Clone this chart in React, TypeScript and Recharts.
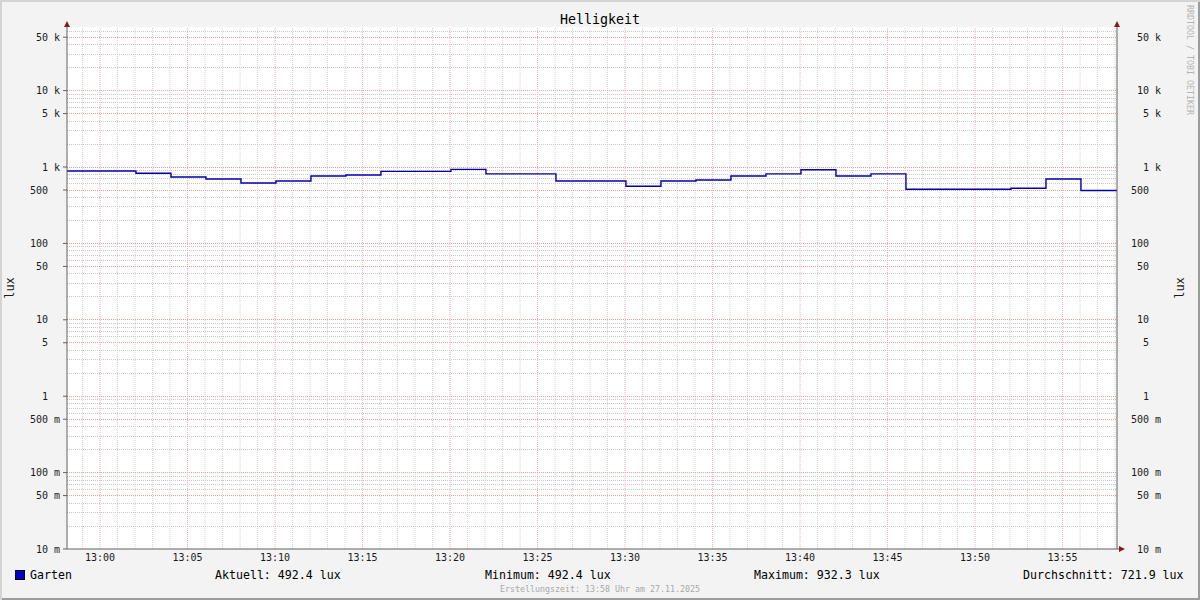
import { LineChart, Line, XAxis, YAxis, CartesianGrid, ReferenceLine, ReferenceDot } from 'recharts';

// minutes relative to 13:00, one entry per step of the lux reading
const minutes = [
  -1.89, 2.05, 4.05, 6.05, 8.05, 10.05, 12.05, 14.05, 16.05, 18.05,
  20.05, 22.05, 24.05, 26.05, 28.05, 30.05, 32.05, 34.05, 36.05, 38.05,
  40.05, 42.05, 44.05, 46.05, 48.05, 50.05, 52.05, 54.05, 56.05, 58.11,
];
const luxValues = [
  887, 830, 740, 697, 617, 655, 762, 786, 877, 877,
  932.3, 812, 812, 655, 655, 560, 655, 676, 763, 812,
  920, 763, 812, 512, 512, 512, 528, 697, 492.4, 492.4,
];

const xTicks = [0, 5, 10, 15, 20, 25, 30, 35, 40, 45, 50, 55];
const xTickLabels = ['13:00', '13:05', '13:10', '13:15', '13:20', '13:25', '13:30', '13:35', '13:40', '13:45', '13:50', '13:55'];
const yTicks = [0.01, 0.05, 0.1, 0.5, 1, 5, 10, 50, 100, 500, 1000, 5000, 10000, 50000];
const yTickLabels = ['10 m', '50 m', '100 m', '500 m', '1', '5', '10', '50', '100', '500', '1 k', '5 k', '10 k', '50 k'];
const decades = [0.01, 0.1, 1, 10, 100, 1000, 10000];
const minorMantissas = [2, 3, 4, 6, 7, 8, 9];
const minorMinutes = [-1, 1, 2, 3, 4, 6, 7, 8, 9, 11, 12, 13, 14, 16, 17, 18, 19, 21, 22, 23, 24, 26, 27, 28, 29,
  31, 32, 33, 34, 36, 37, 38, 39, 41, 42, 43, 44, 46, 47, 48, 49, 51, 52, 53, 54, 56, 57, 58];

const seriesName = 'Garten';
const statLabels = ['Aktuell', 'Minimum', 'Maximum', 'Durchschnitt'];
const statValues = ['492.4', '492.4', '932.3', '721.9'];
const statX = [215, 485, 754, 1023];

const X_MIN = -1.89;
const X_MAX = 58.11;
const Y_MIN = 0.01;
const Y_MAX = 68000;

const data = minutes.map((t, i) => ({ t, lux: luxValues[i] }));
const minorY = decades.flatMap((d) => minorMantissas.map((m) => d * m)).filter((v) => v < Y_MAX);
const majorY = decades.flatMap((d) => [d, d * 5]).filter((v) => v > Y_MIN && v < Y_MAX);

const mono = '"DejaVu Sans Mono", monospace';
const MINOR = '#c8c8c8';
const MAJOR = '#e6a0a0';

function yLabel(v: number) {
  const s = yTickLabels[yTicks.indexOf(v)] ?? '';
  return s.includes(' ') ? s : s + '\u00a0\u00a0';
}

function RightTick(props: any) {
  const { x, y, payload } = props;
  return (
    <text x={x + 44} y={y} dy={3.5} textAnchor="end" fontFamily={mono} fontSize={10} fill="#1a1a1a">
      {yLabel(payload.value)}
    </text>
  );
}

const upArrow = (p: any) => (
  <polygon points={`${p.cx - 3},${p.cy} ${p.cx + 3},${p.cy} ${p.cx},${p.cy - 6}`} fill="#8b1a1a" />
);
const rightArrow = (p: any) => (
  <g>
    <line x1={p.cx} y1={p.cy} x2={p.cx + 3} y2={p.cy} stroke="#606060" />
    <polygon points={`${p.cx + 2},${p.cy - 3} ${p.cx + 2},${p.cy + 3} ${p.cx + 8},${p.cy}`} fill="#8b1a1a" />
  </g>
);

export default function App() {
  return (
    <div
      style={{
        position: 'fixed', left: 0, top: 0, width: 1200, height: 600, background: '#f3f3f3',
        boxShadow: 'inset 2px 2px 0 #d4d4d4, inset -2px -2px 0 #9c9c9c',
      }}
    >
      <LineChart width={1200} height={600} data={data} margin={{ top: 27, right: 0, bottom: 0, left: 0 }}>
        <CartesianGrid fill="#ffffff" horizontal={false} vertical={false} yAxisId="left" />
        {minorMinutes.map((m) => (
          <ReferenceLine key={'vx' + m} x={m} yAxisId="left" stroke="#d2d2d2" strokeDasharray="1 1" />
        ))}
        {minorY.map((v) => (
          <ReferenceLine key={'hy' + v} y={v} yAxisId="left" stroke={MINOR} strokeDasharray="1 1" shapeRendering="crispEdges" />
        ))}
        {xTicks.map((m) => (
          <ReferenceLine key={'VX' + m} x={m} yAxisId="left" stroke="#eab0b0" strokeDasharray="1 1" />
        ))}
        {majorY.map((v) => (
          <ReferenceLine key={'HY' + v} y={v} yAxisId="left" stroke={MAJOR} strokeDasharray="1 1" shapeRendering="crispEdges" />
        ))}
        <XAxis
          dataKey="t" type="number" domain={[X_MIN, X_MAX]} allowDataOverflow ticks={xTicks} interval={0}
          tickFormatter={(v) => xTickLabels[xTicks.indexOf(v)] ?? ''}
          height={51} tickSize={0} tickMargin={5} tickLine={false}
          axisLine={{ stroke: '#606060' }}
          tick={{ fontFamily: mono, fontSize: 10, fill: '#1a1a1a' }}
        />
        <YAxis
          yAxisId="left" scale="log" domain={[Y_MIN, Y_MAX]} allowDataOverflow ticks={yTicks} interval={0}
          tickFormatter={yLabel} width={67} tickSize={4} tickMargin={3}
          tickLine={{ stroke: '#606060' }} axisLine={{ stroke: '#606060' }}
          tick={{ fontFamily: mono, fontSize: 10, fill: '#1a1a1a' }}
        />
        <YAxis
          yAxisId="right" orientation="right" scale="log" domain={[Y_MIN, Y_MAX]} allowDataOverflow
          ticks={yTicks} interval={0} width={83} tickSize={0} tickMargin={0} tickLine={false}
          axisLine={{ stroke: '#606060' }} tick={<RightTick />}
        />
        <Line
          yAxisId="left" type="stepAfter" dataKey="lux" name={seriesName} stroke="#0000aa"
          strokeWidth={1.4} dot={false} activeDot={false} isAnimationActive={false}
        />
        <ReferenceDot yAxisId="left" x={X_MIN} y={Y_MAX} ifOverflow="visible" shape={upArrow} />
        <ReferenceDot yAxisId="left" x={X_MAX} y={Y_MAX} ifOverflow="visible" shape={upArrow} />
        <ReferenceDot yAxisId="left" x={X_MAX} y={Y_MIN} ifOverflow="visible" shape={rightArrow} />
      </LineChart>
      <svg width={1200} height={600} style={{ position: 'absolute', left: 0, top: 0, pointerEvents: 'none' }} fontFamily={mono}>
        <text x={600} y={19} textAnchor="middle" dominantBaseline="central" fontSize={13.3} fill="#000">Helligkeit</text>
        <text x={10} y={288} transform="rotate(-90 10 288)" textAnchor="middle" dominantBaseline="central" fontSize={12} fill="#1a1a1a">lux</text>
        <text x={1180} y={288} transform="rotate(-90 1180 288)" textAnchor="middle" dominantBaseline="central" fontSize={12} fill="#1a1a1a">lux</text>
        <text x={1190} y={5} transform="rotate(90 1190 5)" textAnchor="start" dominantBaseline="central" fontSize={8.3} fill="#b4b4b4">RRDTOOL / TOBI OETIKER</text>
        <rect x={15.5} y={570.5} width={9} height={9} fill="#0000cc" stroke="#000" />
        <text x={30} y={575} dominantBaseline="central" fontSize={11.6} fill="#000">{seriesName}</text>
        {statLabels.map((l, i) => (
          <text key={l} x={statX[i]} y={575} dominantBaseline="central" fontSize={11.6} fill="#000">
            {`${l}: ${statValues[i]} lux`}
          </text>
        ))}
        <text x={600} y={589} textAnchor="middle" dominantBaseline="central" fontSize={8.3} fill="#a8a8a8">
          Erstellungszeit: 13:58 Uhr am 27.11.2025
        </text>
      </svg>
    </div>
  );
}
